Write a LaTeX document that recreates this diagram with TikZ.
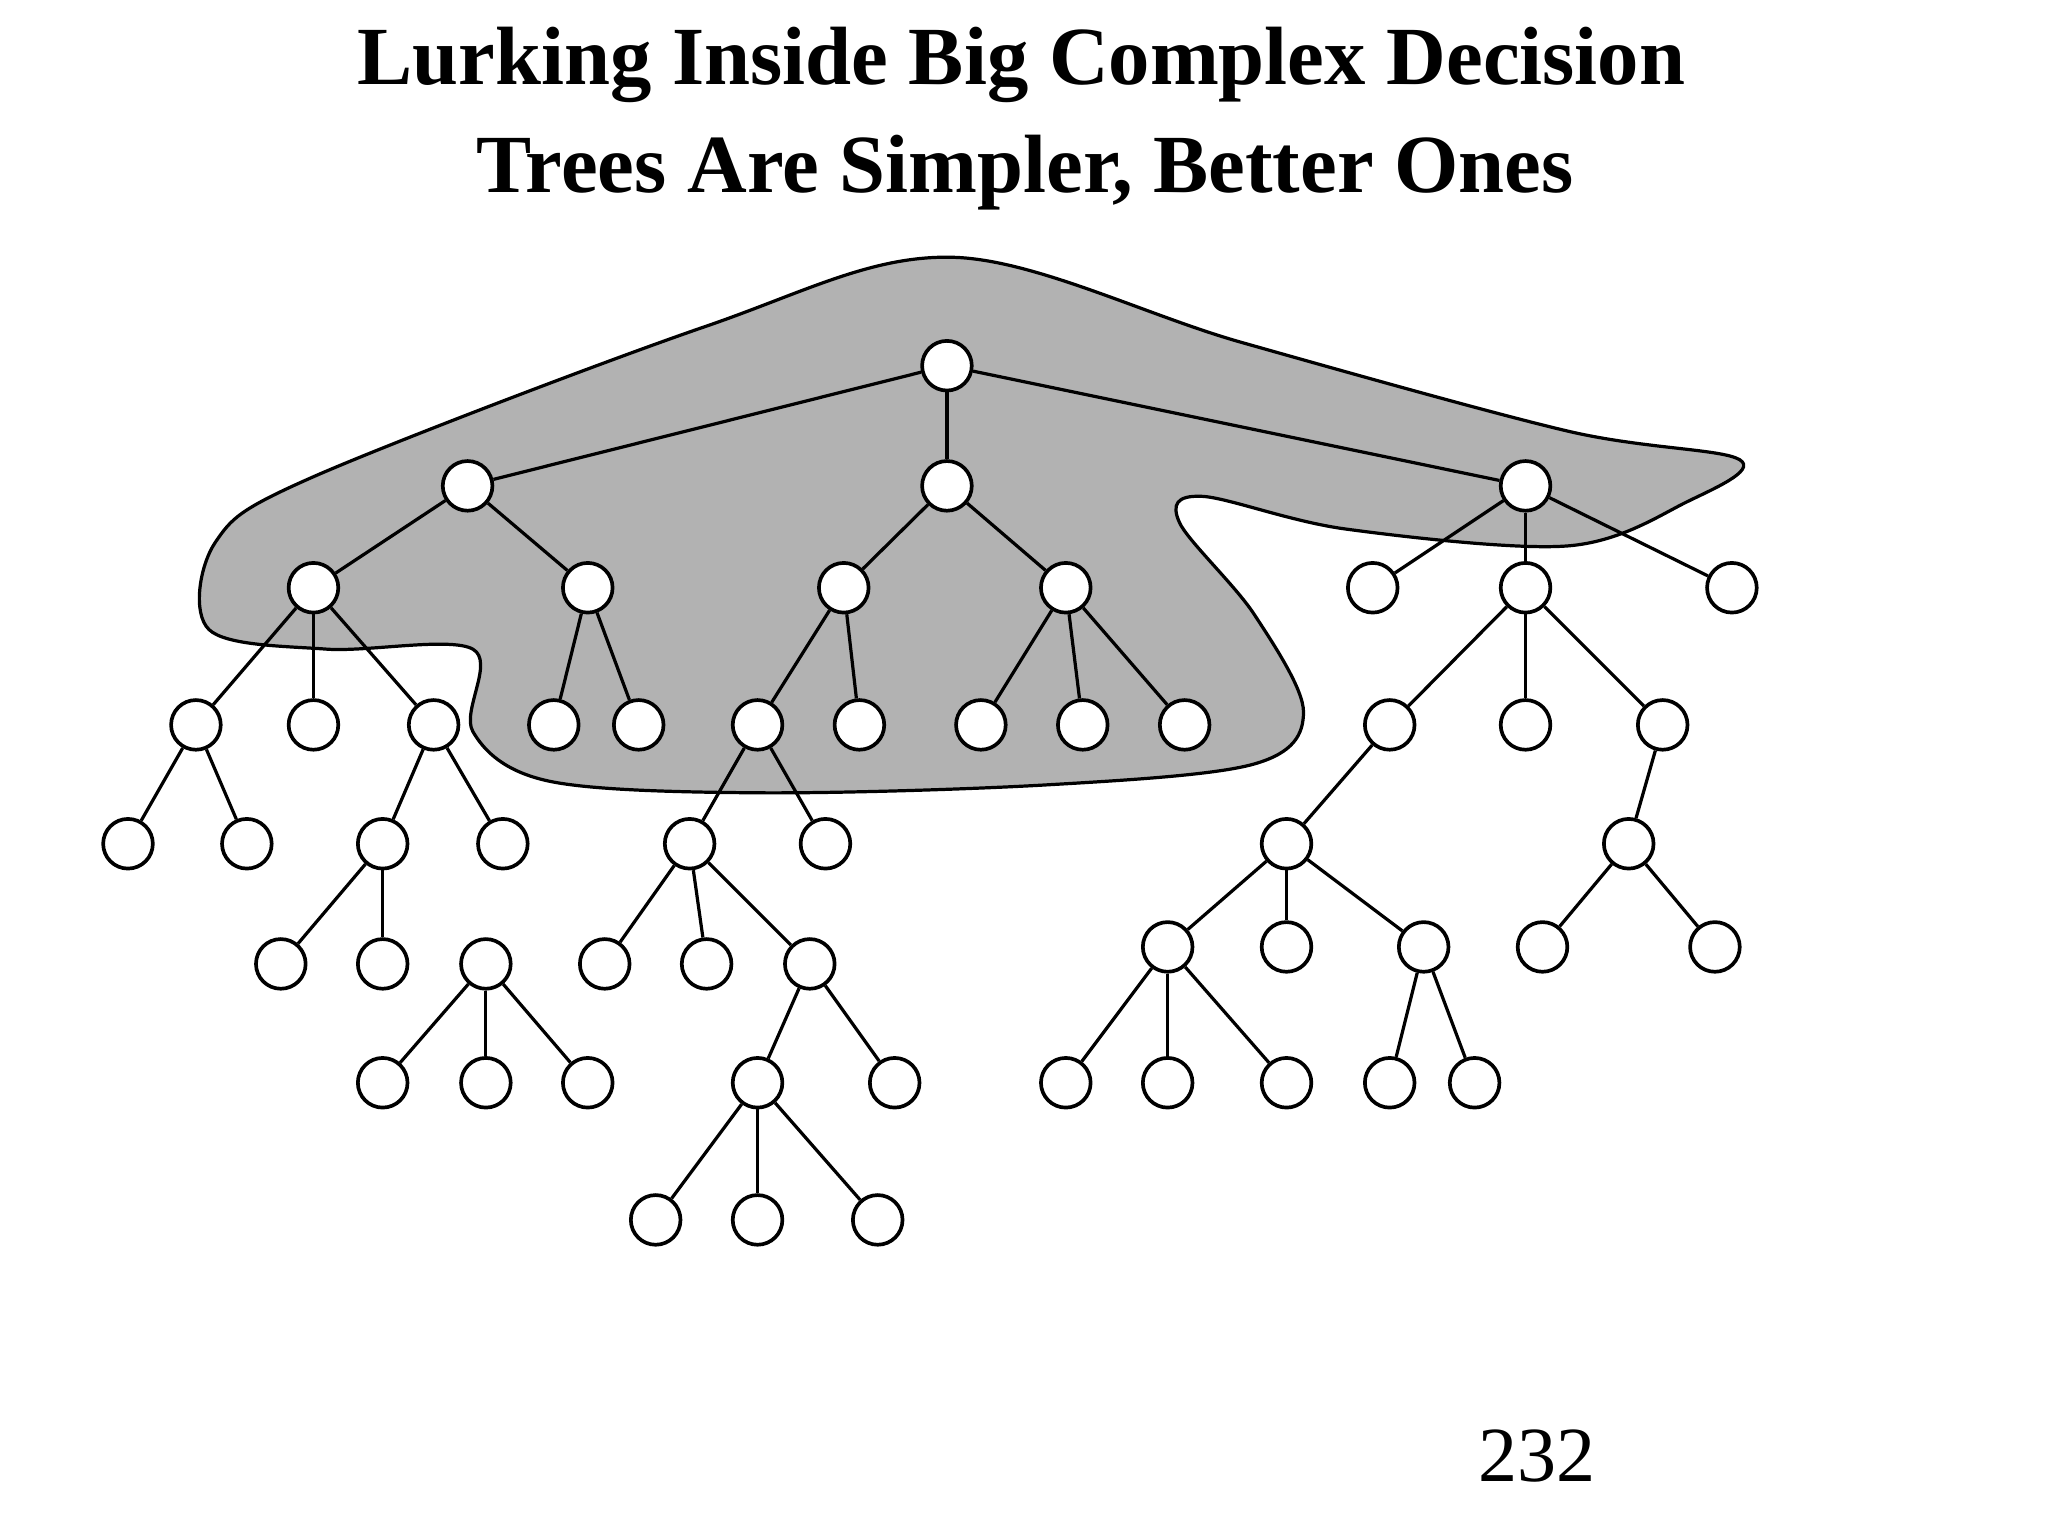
\documentclass[tikz,border=0pt]{standalone}
\usepackage{fontspec}
\setmainfont{Liberation Serif}
\begin{document}
\begin{tikzpicture}[x=0.01cm,y=-0.01cm,
  tn/.style={circle,draw,fill=white,minimum size=0.38cm,inner sep=0pt,line width=0.8pt},
  ed/.style={line width=0.7pt}]
\useasboundingbox (0,0) rectangle (1568,1176);
\node[font=\bfseries\fontsize{18}{22}\selectfont] (t1) at (782,50) {Lurking Inside Big Complex Decision};
\node[font=\bfseries\fontsize{18}{22}\selectfont] (t2) at (785,132) {Trees Are Simpler, Better Ones};
\node[font=\fontsize{17}{20}\selectfont] (pg) at (1177,1115) {232};
\fill[gray!60] plot[smooth cycle,tension=0.55] coordinates {(160,482)(165,415)(240,365)(540,250)(730,197)(950,262)(1200,330)(1332,352)(1290,385)(1200,418)(1030,405)(920,380)(903,400)(960,470)(998,545)(960,585)(800,601)(580,607)(420,598)(362,560)(362,497)(250,497)};
\draw[line width=0.7pt] plot[smooth cycle,tension=0.55] coordinates {(160,482)(165,415)(240,365)(540,250)(730,197)(950,262)(1200,330)(1332,352)(1290,385)(1200,418)(1030,405)(920,380)(903,400)(960,470)(998,545)(960,585)(800,601)(580,607)(420,598)(362,560)(362,497)(250,497)};
\foreach \n/\x/\y in {A/725/280,B/358/372,C/725/372,D/1168/372,E/240/450,F/450/450,G/646/450,H/816/450,I/1051/450,J/1168/450,K/1326/450,
E1/150/555,E2/240/555,E3/332/555,F1/424/555,F2/489/555,G1/580/555,G2/658/555,H1/751/555,H2/829/555,H3/907/555,J1/1064/555,J2/1168/555,J3/1273/555,
a1/98/646,a2/189/646,b1/293/646,b2/385/646,c1/528/646,c2/632/646,d1/985/646,e1/1247/646,
b11/215/738,b12/293/738,X/372/738,c11/463/738,c12/541/738,c13/620/738,d11/894/725,d12/985/725,d13/1090/725,e11/1181/725,e12/1313/725,
X1/293/829,X2/372/829,X3/450/829,c131/580/829,c132/685/829,d111/816/829,d112/894/829,d113/985/829,d131/1064/829,d132/1129/829,
f1/502/934,f2/580/934,f3/672/934}
  \node[tn] (\n) at (\x,\y) {};
\foreach \p/\c in {A/B,A/C,A/D,B/E,B/F,C/G,C/H,D/I,D/J,D/K,E/E1,E/E2,E/E3,F/F1,F/F2,G/G1,G/G2,H/H1,H/H2,H/H3,J/J1,J/J2,J/J3,
E1/a1,E1/a2,E3/b1,E3/b2,G1/c1,G1/c2,J1/d1,J3/e1,b1/b11,b1/b12,X/X1,X/X2,X/X3,c1/c11,c1/c12,c1/c13,c13/c131,c13/c132,c131/f1,c131/f2,c131/f3,
d1/d11,d1/d12,d1/d13,d11/d111,d11/d112,d11/d113,d13/d131,d13/d132,e1/e11,e1/e12}
  \draw[ed] (\p) -- (\c);
\end{tikzpicture}
\end{document}
